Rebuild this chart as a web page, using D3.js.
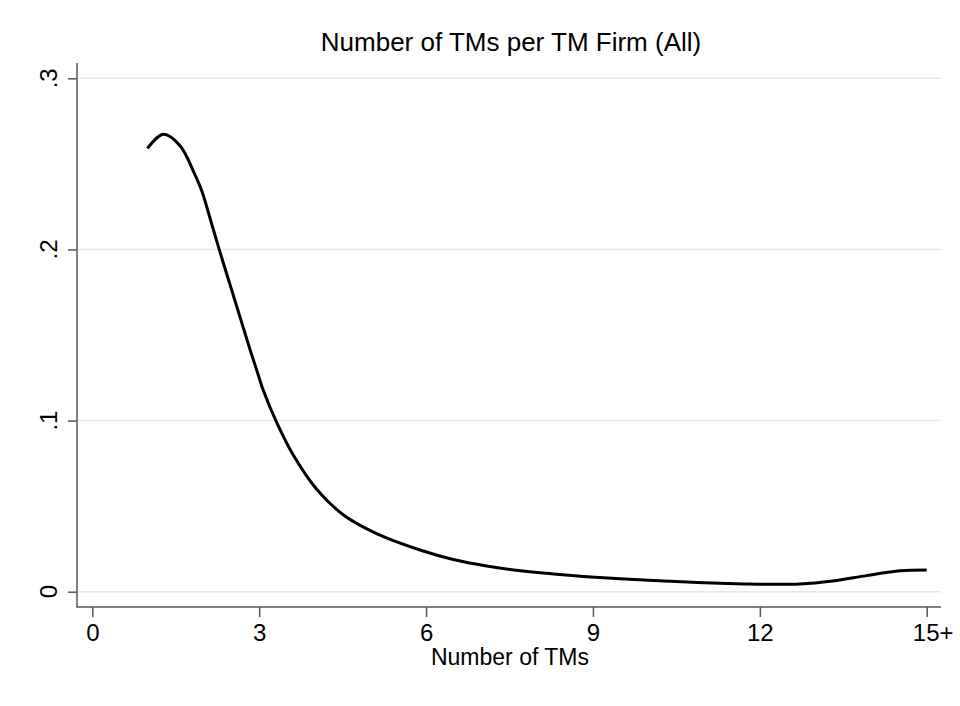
<!DOCTYPE html>
<html>
<head>
<meta charset="utf-8">
<script src="https://cdn.jsdelivr.net/npm/d3@7"></script>
<style>
  body { margin: 0; background: #fff; }
  text { font-family: "Liberation Sans", Arial, sans-serif; fill: #000; }
</style>
</head>
<body>
<div class="chart"></div>
<script>
var svgWidth = 960;
var svgHeight = 706;

// density curve
var tmCount = [0.99, 1.28, 1.58, 1.82, 1.97, 2.15, 2.30, 2.48, 2.66, 2.84, 2.98, 3.07, 3.32, 3.61, 4.03, 4.51, 5.11, 5.95, 6.49, 7.09, 7.69, 8.29, 8.89, 9.49, 10.09, 10.69, 11.28, 11.76, 12.2, 12.72, 13.31, 13.92, 14.52, 15.0];
var density = [0.259, 0.2673, 0.2605, 0.2455, 0.234, 0.2145, 0.198, 0.179, 0.160, 0.141, 0.127, 0.118, 0.0985, 0.080, 0.060, 0.045, 0.034, 0.0238, 0.0188, 0.015, 0.0123, 0.0104, 0.0088, 0.0075, 0.0065, 0.0057, 0.0049, 0.0045, 0.0043, 0.0045, 0.0063, 0.0094, 0.0122, 0.0127];

var xTicks = [0, 3, 6, 9, 12, 15];
var xTickLabels = ["0", "3", "6", "9", "12", "15+"];
var yTicks = [0, 0.1, 0.2, 0.3];
var yTickLabels = ["0", ".1", ".2", ".3"];

var plot = { left: 77, right: 941, top: 63, bottom: 607 };

var svg = d3.select(".chart")
  .append("svg")
  .attr("width", svgWidth)
  .attr("height", svgHeight);

var xScale = d3.scaleLinear()
  .domain([0, 15])
  .range([92.3, 926.7]);

var yScale = d3.scaleLinear()
  .domain([0, 0.3])
  .range([591.7, 78.3]);

// gridlines
svg.append("g")
  .selectAll("line")
  .data(yTicks)
  .enter()
  .append("line")
  .attr("x1", plot.left)
  .attr("x2", plot.right)
  .attr("y1", d => yScale(d))
  .attr("y2", d => yScale(d))
  .attr("stroke", "#e8e8e8")
  .attr("stroke-width", 1.5);

// y axis
var leftAxis = d3.axisLeft(yScale)
  .tickValues(yTicks)
  .tickSize(9)
  .tickFormat("");

var yAxisG = svg.append("g")
  .attr("transform", `translate(${plot.left}, 0)`)
  .call(leftAxis);
yAxisG.select(".domain").remove();
yAxisG.append("line")
  .attr("y1", plot.top).attr("y2", plot.bottom)
  .attr("stroke", "#555").attr("stroke-width", 1.5);
yAxisG.selectAll(".tick line").attr("stroke", "#555").attr("stroke-width", 1.5);

svg.append("g")
  .selectAll("text")
  .data(yTicks)
  .enter()
  .append("text")
  .attr("transform", d => `translate(57, ${yScale(d)}) rotate(-90)`)
  .attr("text-anchor", "middle")
  .attr("font-size", 24)
  .text((d, i) => yTickLabels[i]);

// x axis
var bottomAxis = d3.axisBottom(xScale)
  .tickValues(xTicks)
  .tickSize(10)
  .tickFormat((d, i) => xTickLabels[i]);

var xAxisG = svg.append("g")
  .attr("transform", `translate(0, ${plot.bottom})`)
  .call(bottomAxis);
xAxisG.select(".domain").remove();
xAxisG.append("line")
  .attr("x1", plot.left - 0.75).attr("x2", plot.right)
  .attr("stroke", "#555").attr("stroke-width", 1.5);
xAxisG.selectAll(".tick line").attr("stroke", "#555").attr("stroke-width", 1.5);
xAxisG.selectAll(".tick text")
  .attr("y", 34)
  .attr("dy", 0)
  .attr("font-size", 24)
  .attr("font-family", "Liberation Sans, Arial, sans-serif")
  .attr("fill", "#000");
// "15+" sits with the digits centred on the tick
xAxisG.selectAll(".tick text").filter((d, i) => i === 5)
  .attr("dx", 6);

// curve
var line = d3.line()
  .x(d => xScale(d[0]))
  .y(d => yScale(d[1]))
  .curve(d3.curveCatmullRom.alpha(0.5));

svg.append("path")
  .datum(tmCount.map((x, i) => [x, density[i]]))
  .attr("d", line)
  .attr("fill", "none")
  .attr("stroke", "#000")
  .attr("stroke-width", 3);

// titles
svg.append("text")
  .attr("x", 511)
  .attr("y", 51)
  .attr("text-anchor", "middle")
  .attr("font-size", 26)
  .text("Number of TMs per TM Firm (All)");

svg.append("text")
  .attr("x", 510)
  .attr("y", 665)
  .attr("text-anchor", "middle")
  .attr("font-size", 23)
  .text("Number of TMs");
</script>
</body>
</html>
